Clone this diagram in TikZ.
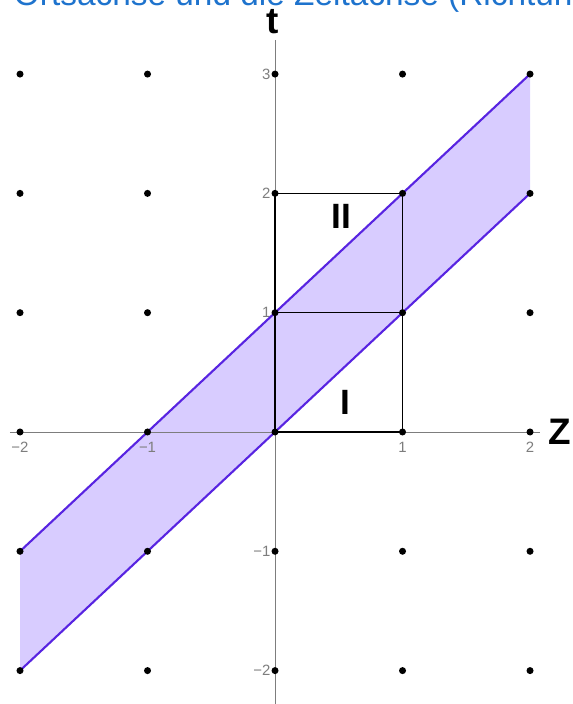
\documentclass[tikz,border=0pt]{standalone}
\usepackage{fontspec}
\setmainfont{Liberation Sans}
\usetikzlibrary{positioning}
\definecolor{bandfill}{RGB}{216,204,255}
\definecolor{bandline}{RGB}{88,36,225}
\definecolor{axisgray}{RGB}{125,125,125}
\definecolor{titleblue}{RGB}{30,115,205}

\begin{document}
\begin{tikzpicture}[x=2.55cm,y=2.386cm,font=\footnotesize]
            \useasboundingbox (-2.157,-2.280) rectangle (2.337,3.621);
            % Titel (abgeschnitten)
            \node[anchor=base west,inner sep=0pt,titleblue,
                  font=\fontsize{19}{22}\selectfont] (title) at (-2.05,3.578)
                {Ortsachse und die Zeitachse (Richtung};
            % Streifen
            \fill[bandfill] (-2,-1) -- (2,3) -- (2,2) -- (-2,-2) -- cycle;
            % Achsen
            \draw[axisgray,line width=0.5pt] (-2.08,0) -- (2.08,0);
            \draw[axisgray,line width=0.5pt] (0,-2.3) -- (0,3.286);
            \node[font=\bfseries\fontsize{21}{24}\selectfont] (tlabel)
                at (-0.02,3.44) {t};
            \node[font=\bfseries\fontsize{21}{24}\selectfont] (zlabel)
                at (2.23,0) {Z};
            % Achsenbeschriftung
            \foreach \x/\lab in {-2/−2,-1/−1,1/1,2/2}{
                \node[axisgray,font=\fontsize{8.5}{9}\selectfont]
                    at (\x,-0.125) {\lab};
            }
            \foreach \y/\lab in {3/3,2/2,1/1,-1/−1,-2/−2}{
                \node[axisgray,anchor=east,inner sep=1pt,
                      font=\fontsize{8.5}{9}\selectfont] at (-0.02,\y) {\lab};
            }
            % Quadrate I und II
            \draw[line width=0.8pt] (0,0) rectangle (1,1);
            \draw[line width=0.8pt] (0,1) rectangle (1,2);
            \node[font=\bfseries\fontsize{20}{24}\selectfont] (one)
                at (0.55,0.245) {I};
            \node[font=\bfseries\fontsize{20}{24}\selectfont] (two)
                at (0.52,1.81) {II};
            % Geraden t=z und t=z+1
            \draw[bandline,line width=1.2pt] (-2,-2) -- (2,2);
            \draw[bandline,line width=1.2pt] (-2,-1) -- (2,3);
            % Gitterpunkte
            \foreach \x in {-2,...,2}{
                \foreach \y in {-2,...,3}{
                    \fill (\x,\y) circle(2pt);
                }
            }
        \end{tikzpicture}
\end{document}
